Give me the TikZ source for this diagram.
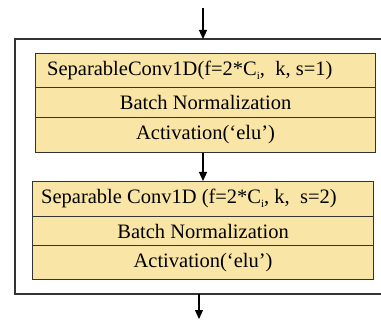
\documentclass[tikz,border=0pt]{standalone}
\usepackage{fontspec}
\setmainfont{Liberation Serif}
\usetikzlibrary{arrows.meta}
\definecolor{boxfill}{HTML}{F9E6A6}
\definecolor{linec}{HTML}{333333}
\newcommand{\subi}{\raisebox{-4pt}{\fontsize{11}{11}\selectfont i}}
\begin{document}
\begin{tikzpicture}[x=1pt,y=1pt,
  txt/.style={font=\fontsize{20.5}{23}\selectfont},
  layer/.style={draw=linec,line width=1.1pt,fill=boxfill,minimum width=340pt,inner sep=0pt,txt},
  arr/.style={draw=black,line width=1.1pt,-{Triangle[width=8pt,length=9pt]}}]
\useasboundingbox (0,0) rectangle (381,-321);
% outer box (open on right)
\draw[linec,line width=1.1pt] (381,-39) -- (15,-39) -- (15,-294) -- (381,-294);
\coordinate (in) at (203,-8);
\coordinate (outtop) at (203,-39);
\coordinate (outbot) at (199,-294);
\coordinate (out) at (199,-319);
% block 1
\node[layer,minimum height=34pt,anchor=north west] (a1) at (35,-53) {};
\node[txt,anchor=west,inner sep=0pt] (t1) at (47,-70) {SeparableConv1D(f=2*C\subi,\ \ k, s=1)};
\node[layer,minimum height=30pt,anchor=north west] (a2) at (35,-87) {Batch Normalization};
\node[layer,minimum height=35pt,anchor=north west] (a3) at (35,-117) {Activation(‘elu’)};
% block 2
\node[layer,minimum width=341pt,minimum height=35pt,anchor=north west] (b1) at (32,-181) {};
\node[txt,anchor=west,inner sep=0pt] (t2) at (41,-198.5) {Separable Conv1D (f=2*C\subi, k,\ \ s=2)};
\node[layer,minimum width=341pt,minimum height=29pt,anchor=north west] (b2) at (32,-216) {Batch Normalization};
\node[layer,minimum width=341pt,minimum height=34pt,anchor=north west] (b3) at (32,-245) {Activation(‘elu’)};
% arrows
\draw[arr] (in) -- (outtop);
\draw[arr] (a3.south -| 203,0) -- (b1.north -| 203,0);
\draw[arr] (outbot) -- (out);
\end{tikzpicture}
\end{document}
